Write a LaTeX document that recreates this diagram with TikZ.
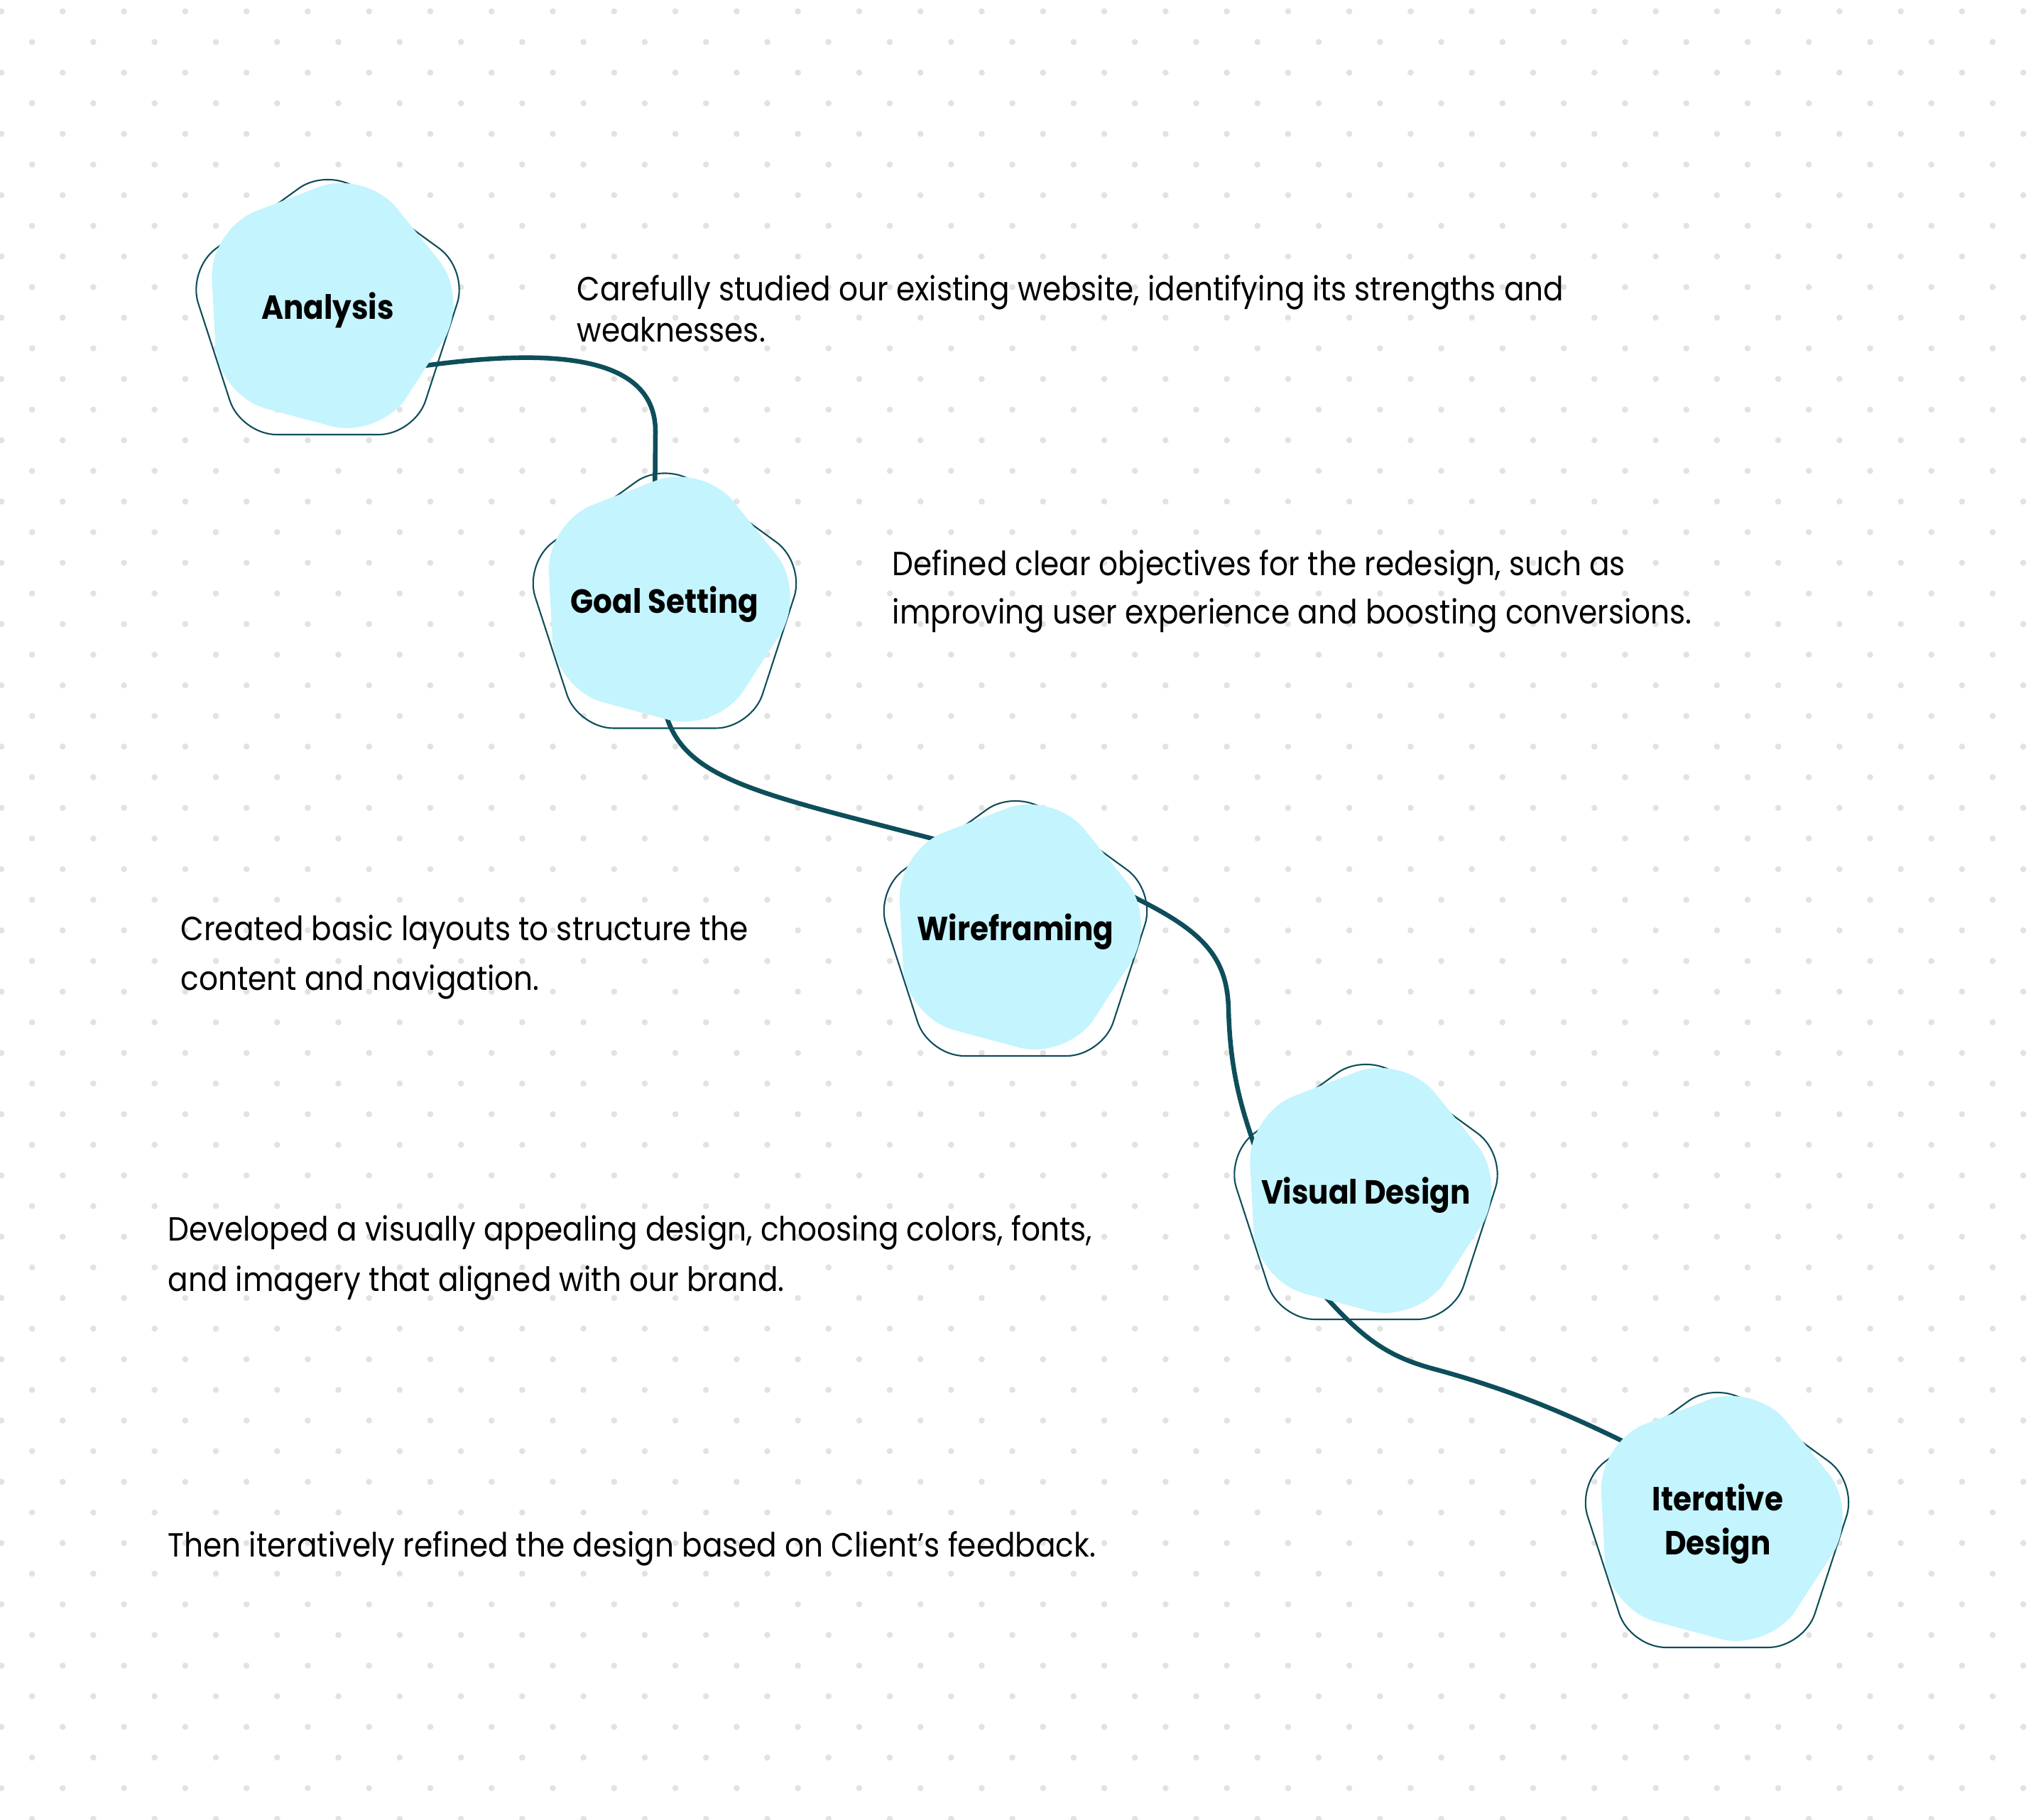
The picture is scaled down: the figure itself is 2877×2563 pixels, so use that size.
\documentclass[tikz,border=0pt]{standalone}
\usepackage{fontspec}
\setmainfont[FakeStretch=0.895]{Poppins}
\usetikzlibrary{calc}
\definecolor{tealline}{HTML}{0D4E5A}
\definecolor{cyanfill}{HTML}{C4F4FD}
\definecolor{dotgray}{HTML}{E2E2E2}
\pgfdeclarelayer{bglayer}
\pgfdeclarelayer{shapelayer}
\pgfsetlayers{bglayer,shapelayer,main}
\newcommand\pentagonpath[4]{%
  \path[#1, shift={(#2)}] ({#4+36}:{0.809*#3}) -- ({#4+72}:#3) -- ({#4+144}:#3) -- ({#4+216}:#3) -- ({#4+288}:#3) -- ({#4}:#3) -- cycle;}
\tikzset{
  penline/.style={draw=tealline, line width=0.6pt, rounded corners=0.5cm},
  blob/.style={fill=cyanfill, rounded corners=0.7cm},
  link/.style={draw=tealline, line width=1.85pt},
  stagelabel/.style={font=\fontsize{13.4pt}{16pt}\selectfont\bfseries, anchor=base, inner sep=0pt},
  bodytext/.style={font=\fontsize{13.4pt}{16pt}\selectfont, anchor=base west, inner sep=0pt},
}
\begin{document}
\begin{tikzpicture}[x=0.01cm, y=-0.01cm]
\useasboundingbox (0,0) rectangle (2877,2563);
% stage centres (bounding box centres)
\coordinate (cA) at (461.5,432.5);
\coordinate (cG) at (936,846);
\coordinate (cW) at (1430,1307.5);
\coordinate (cV) at (1923.5,1678.5);
\coordinate (cI) at (2418,2140.5);
% labels
\node[stagelabel] (A) at ($(cA)+(0,17)$) {Analysis};
\node[stagelabel] (G) at ($(cG)+(0,17)$) {Goal Setting};
\node[stagelabel] (W) at ($(cW)+(0,17)$) {Wireframing};
\node[stagelabel] (V) at ($(cV)+(0,17)$) {Visual Design};
\node[stagelabel] (I) at (2419,2127) {Iterative};
\node[stagelabel] (I2) at (2419,2189.5) {Design};
% background and dot grid
\begin{pgfonlayer}{bglayer}
\fill[white] (0,0) rectangle (2877,2563);
\begin{scope}
\clip (0,0) rectangle (2877,2563);
\foreach \j in {0,...,59}{
  \pgfmathtruncatemacro\off{mod(\j,2)}
  \foreach \i in {0,...,33}{
    \fill[dotgray] ({2+43.14*(2*\i+\off)},{16+43.14*\j}) circle (4.3);
  }
}
\end{scope}
% connectors
\draw[link] ($(A.base)+(108.5,69.5)$) -- ++(28,-4)
  .. controls +(182,-25) and +(2,-110) .. ($(G.base)+(-13,-253)$)
  -- ($(G.base)+(-14,-143)$);
\draw[link] ($(G.base)+(-6,122)$) -- ++(10,28)
  .. controls +(30,87) and +(-237,-62) .. ($(W.base)+(-113,-142.5)$)
  -- ++(40,10);
\draw[link] ($(W.base)+(135,-78.5)$) -- ++(35,19)
  .. controls +(90,45) and +(-2,-75) .. ($(V.base)+(-193.5,-275.5)$)
  .. controls +(2,80) and +(-18,-53) .. ($(V.base)+(-160.5,-92.5)$)
  -- ++(12,37);
\draw[link] ($(V.base)+(-73.5,112.5)$) -- ++(22,24)
  .. controls +(53,58) and +(-60,-16) .. ($(I.base)+(-399,-199)$)
  .. controls +(100,27) and +(-80,-39) .. ($(I.base)+(-139,-100)$)
  -- ++(30,15);
\end{pgfonlayer}
% pentagons
\begin{pgfonlayer}{shapelayer}
\foreach \c in {cA,cG,cW,cV,cI}{
  \pentagonpath{penline}{$(\c)+(0,11.2)$}{208}{-90}
  \pentagonpath{blob}{$(\c)+(1,-1)$}{200}{-3}
}
\end{pgfonlayer}
% body text
\node[bodytext] (t1a) at (812,423) {Carefully studied our existing website, identifying its strengths and};
\node[bodytext] (t1b) at (812,481) {weaknesses.};
\node[bodytext] (t2a) at (1256,810) {Defined clear objectives for the redesign, such as};
\node[bodytext] (t2b) at (1256,878) {improving user experience and boosting conversions.};
\node[bodytext] (t3a) at (254,1324) {Created basic layouts to structure the};
\node[bodytext] (t3b) at (254,1394) {content and navigation.};
\node[bodytext] (t4a) at (236,1747) {Developed a visually appealing design, choosing colors, fonts,};
\node[bodytext] (t4b) at (236,1818) {and imagery that aligned with our brand.};
\node[bodytext] (t5) at (236,2192) {Then iteratively refined the design based on Client’s feedback.};
\end{tikzpicture}
\end{document}
